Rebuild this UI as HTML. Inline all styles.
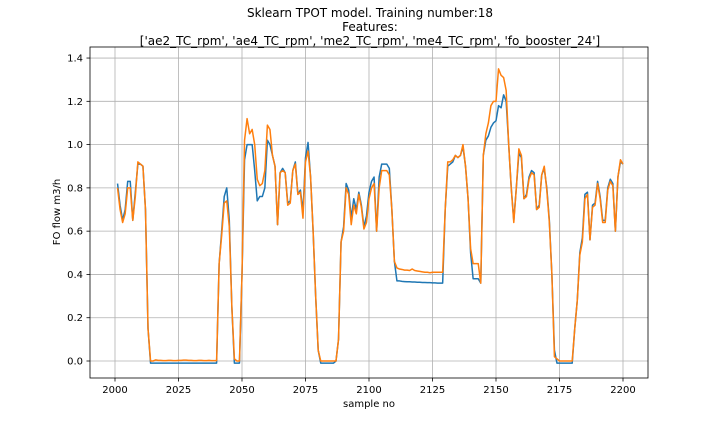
<!DOCTYPE html>
<html><head><meta charset="utf-8"><style>
body{margin:0;background:#fff;}
svg{display:block;font-family:"DejaVu Sans","Liberation Sans",sans-serif;}
</style></head><body>
<svg id="chart" width="720" height="432" viewBox="0 0 720 432">
<rect width="720" height="432" fill="#fff"/>
<g id="title" font-size="12" text-anchor="middle" fill="#000">
<text x="370" y="17">Sklearn TPOT model. Training number:18</text>
<text x="370" y="31">Features:</text>
<text x="370" y="45">['ae2_TC_rpm', 'ae4_TC_rpm', 'me2_TC_rpm', 'me4_TC_rpm', 'fo_booster_24']</text>
</g>
<g id="grid"></g>
<g id="series"></g>
<rect x="90" y="47" width="558" height="331" fill="none" stroke="#000" stroke-width="0.8"/>
<g id="ticks" font-size="10" fill="#000"></g>
<text x="369" y="407" font-size="10" text-anchor="middle">sample no</text>
<text x="0" y="0" font-size="10" text-anchor="middle" transform="translate(60,212) rotate(-90)">FO flow m3/h</text>
</svg>
<script>
const xStart = 2001;
const blueValues = [.82,.72,.65,.70,.83,.83,.65,.78,.91,.91,.90,.70,.15,-.01,-.01,-.01,
-.01,-.01,-.01,-.01,-.01,-.01,-.01,-.01,-.01,-.01,-.01,-.01,-.01,-.01,-.01,-.01,-.01,-.01,-.01,-.01,-.01,-.01,-.01,-.01,
.45,.60,.76,.80,.65,.25,-.01,-.01,-.01,.40,.93,1.00,1.00,1.00,.88,.74,.76,.76,.80,1.02,1.00,.95,.90,.63,.87,.89,.87,.73,.74,.88,
.92,.77,.79,.69,.94,1.01,.85,.60,.30,.05,-.01,-.01,-.01,-.01,-.01,-.01,.0,.10,.55,.62,.82,.79,.66,.75,.70,.78,.72,.62,.67,.78,
.83,.85,.60,.85,.91,.91,.91,.89,.70,.46,.37,.37,.368,.367,.366,.366,.365,.365,.364,.364,.363,.363,.362,.362,.361,.361,.36,.36,.36,.70,
.90,.91,.92,.95,.94,.95,.99,.90,.75,.50,.38,.38,.38,.36,.95,1.02,1.04,1.08,1.10,1.11,1.18,1.17,1.23,1.20,1.00,.80,.65,.80,.96,.94,
.75,.77,.85,.88,.87,.70,.72,.86,.89,.80,.65,.40,.05,-.01,-.01,-.01,-.01,-.01,-.01,-.01,.15,.28,.50,.57,.77,.78,.56,.72,.73,.83,
.76,.65,.65,.80,.84,.82,.60,.85,.92,.91];
const orangeValues = [.80,.70,.64,.68,.80,.80,.65,.76,.92,.91,.90,.70,.15,.0,.0,.005,
.003,.003,.002,.002,.003,.003,.002,.002,.003,.003,.004,.004,.003,.003,.002,.002,.003,.003,.002,.002,.003,.002,.002,.002,
.45,.58,.73,.74,.62,.25,.01,.0,.0,.40,1.02,1.12,1.05,1.07,1.00,.84,.81,.82,.88,1.09,1.07,.95,.90,.63,.87,.88,.87,.72,.73,.88,
.91,.77,.78,.66,.92,.97,.85,.60,.30,.05,.0,.0,.0,.0,.0,.0,.0,.10,.55,.60,.80,.77,.63,.72,.68,.77,.71,.61,.64,.75,
.80,.82,.60,.80,.88,.88,.88,.86,.70,.46,.43,.425,.423,.42,.42,.418,.425,.418,.416,.414,.412,.41,.41,.408,.41,.41,.41,.41,.41,.70,
.92,.92,.93,.95,.94,.95,1.00,.90,.75,.52,.45,.45,.45,.36,.95,1.05,1.10,1.18,1.20,1.20,1.35,1.32,1.31,1.25,1.00,.80,.64,.80,.98,.95,
.75,.76,.84,.87,.86,.70,.71,.86,.90,.79,.64,.40,.02,.01,.0,.0,.0,.0,.0,.0,.15,.28,.49,.55,.75,.77,.56,.71,.72,.82,
.75,.64,.64,.79,.83,.81,.60,.85,.93,.91];
const xTicks = [2000,2025,2050,2075,2100,2125,2150,2175,2200];
const yTicks = [0.0,0.2,0.4,0.6,0.8,1.0,1.2,1.4];

const NS = "http://www.w3.org/2000/svg";
const L=90,R=648,T=47,B=378;
function xs(v){return 115+(v-2000)*2.54;}
function ys(v){return 361-v*216.4;}
const grid=document.getElementById('grid'), ticks=document.getElementById('ticks'), ser=document.getElementById('series');
function mk(tag,attrs,parent){const e=document.createElementNS(NS,tag);for(const k in attrs)e.setAttribute(k,attrs[k]);parent.appendChild(e);return e;}
xTicks.forEach(t=>{
  const gl=mk('line',{x1:xs(t),x2:xs(t),y1:T,y2:B,stroke:'#b0b0b0','stroke-width':0.8},grid);
  
  
  const tk=mk('line',{x1:xs(t),x2:xs(t),y1:B,y2:B+3.5,stroke:'#000','stroke-width':0.8},ticks);
  
  
  const tx=mk('text',{x:xs(t),y:B+15,'text-anchor':'middle'},ticks);
  tx.textContent=t;
  
  
});
yTicks.forEach(t=>{
  const gl=mk('line',{x1:L,x2:R,y1:ys(t),y2:ys(t),stroke:'#b0b0b0','stroke-width':0.8},grid);
  
  
  const tk=mk('line',{x1:L-3.5,x2:L,y1:ys(t),y2:ys(t),stroke:'#000','stroke-width':0.8},ticks);
  
  
  const tx=mk('text',{x:L-7,y:ys(t)+3.5,'text-anchor':'end'},ticks);
  tx.textContent=t.toFixed(1);
  
  
});
function line(vals,color,name){
  const d=vals.map((v,i)=>(i?'L':'M')+xs(xStart+i).toFixed(2)+' '+ys(v).toFixed(2)).join(' ');
  const p=mk('path',{d:d,fill:'none',stroke:color,'stroke-width':1.5,'stroke-linejoin':'round'},ser);
  
  
}
line(blueValues,'#1f77b4','actual-series-line');
line(orangeValues,'#ff7f0e','predicted-series-line');
</script>
</body></html>
